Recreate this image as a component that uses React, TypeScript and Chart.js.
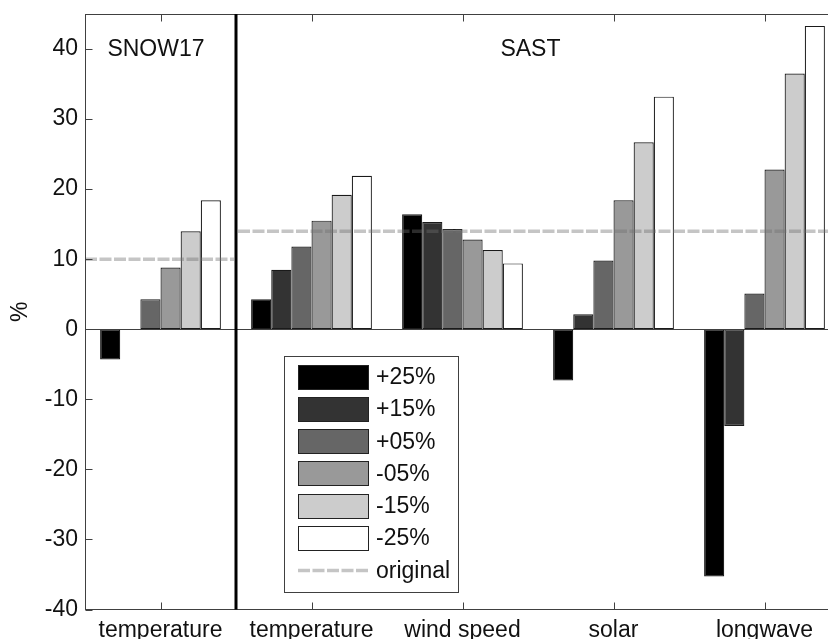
import React, { useEffect, useRef } from 'react';
import { Chart, registerables } from 'chart.js';

Chart.register(...registerables);

// ---- data ----
const categories = ['temperature', 'temperature', 'wind speed', 'solar', 'longwave'];
const seriesLabels = ['+25%', '+15%', '+05%', '-05%', '-15%', '-25%'];
const plus25 = [-4.3, 4.3, 16.4, -7.3, -35.3];
const plus15 = [null, 8.5, 15.3, 2.15, -13.8];
const plus05 = [4.3, 11.8, 14.3, 9.8, 5.1];
const minus05 = [8.8, 15.5, 12.8, 18.4, 22.8];
const minus15 = [14.0, 19.2, 11.3, 26.7, 36.5];
const minus25 = [18.4, 21.9, 9.4, 33.2, 43.3];
const seriesColors = ['#000000', '#333333', '#666666', '#999999', '#cccccc', '#ffffff'];
const yTicks = [-40, -30, -20, -10, 0, 10, 20, 30, 40];
const yMin = -40;
const yMax = 45;
const modelNames = ['SNOW17', 'SAST'];
const modelLabelX = [-0.03, 2.45]; // category position of model label
const modelLabelY = 40;
const originalValues = [10, 14]; // SNOW17, SAST
const originalLabel = 'original';
const yTitle = '%';

const FONT = '"Liberation Sans", Arial, Helvetica, sans-serif';
const FS = 23;

const overlayPlugin = {
  id: 'matlabOverlay',
  afterDatasetsDraw(chart: any) {
    const { ctx, chartArea: ca, scales } = chart;
    const x = scales.x;
    const y = scales.y;
    const c0 = x.getPixelForValue(0);
    const c1 = x.getPixelForValue(1);
    const catW = c1 - c0;
    const sepX = (c0 + c1) / 2;
    const L = Math.round(ca.left) + 0.5;
    const R = Math.round(ca.right) - 0.5;
    const T = Math.round(ca.top) + 0.5;
    const B = Math.round(ca.bottom) - 0.5;

    ctx.save();
    // zero baseline
    const y0 = Math.round(y.getPixelForValue(0)) + 0.5;
    ctx.strokeStyle = '#404040';
    ctx.lineWidth = 1;
    ctx.beginPath();
    ctx.moveTo(L, y0);
    ctx.lineTo(R, y0);
    ctx.stroke();

    // original dashed lines
    ctx.strokeStyle = 'rgba(110,110,110,0.40)';
    ctx.lineWidth = 3.5;
    ctx.setLineDash([12, 2.5]);
    const ys = y.getPixelForValue(originalValues[0]);
    ctx.beginPath();
    ctx.moveTo(ca.left, ys);
    ctx.lineTo(sepX - 2, ys);
    ctx.stroke();
    const ya = y.getPixelForValue(originalValues[1]);
    ctx.beginPath();
    ctx.moveTo(sepX + 2, ya);
    ctx.lineTo(ca.right, ya);
    ctx.stroke();
    ctx.setLineDash([]);

    // frame
    ctx.strokeStyle = '#404040';
    ctx.lineWidth = 1;
    ctx.strokeRect(L, T, R - L, B - T);

    // inward ticks
    ctx.beginPath();
    for (let i = 0; i < categories.length; i++) {
      const px = Math.round(x.getPixelForValue(i)) + 0.5;
      ctx.moveTo(px, T);
      ctx.lineTo(px, T + 7);
      ctx.moveTo(px, B);
      ctx.lineTo(px, B - 7);
    }
    for (const v of yTicks) {
      const py = Math.round(y.getPixelForValue(v)) + 0.5;
      ctx.moveTo(L, py);
      ctx.lineTo(L + 7, py);
      ctx.moveTo(R, py);
      ctx.lineTo(R - 7, py);
    }
    ctx.stroke();

    // separator between models
    ctx.strokeStyle = '#000000';
    ctx.lineWidth = 3;
    ctx.beginPath();
    ctx.moveTo(sepX, ca.top);
    ctx.lineTo(sepX, ca.bottom);
    ctx.stroke();

    // model labels
    ctx.fillStyle = '#111111';
    ctx.font = `${FS}px ${FONT}`;
    ctx.textAlign = 'center';
    ctx.textBaseline = 'middle';
    modelNames.forEach((name, i) => {
      const px = c0 + modelLabelX[i] * catW;
      ctx.fillText(name, px, y.getPixelForValue(modelLabelY) + 1);
    });

    // legend
    const lx = 284.5;
    const ly = 356.5;
    const lw = 174;
    const lh = 236;
    ctx.fillStyle = '#ffffff';
    ctx.fillRect(lx, ly, lw, lh);
    ctx.strokeStyle = '#404040';
    ctx.lineWidth = 1;
    ctx.strokeRect(lx, ly, lw, lh);
    const rowH = 32.33;
    const swX = 298;
    const swW = 70;
    const swH = 24;
    const firstCy = 376.5;
    ctx.textAlign = 'left';
    ctx.textBaseline = 'middle';
    chart.data.datasets.forEach((ds: any, i: number) => {
      const cy = firstCy + i * rowH;
      ctx.fillStyle = ds.backgroundColor;
      ctx.fillRect(swX + 0.5, Math.round(cy - swH / 2) + 0.5, swW, swH);
      ctx.strokeStyle = '#222222';
      ctx.strokeRect(swX + 0.5, Math.round(cy - swH / 2) + 0.5, swW, swH);
      ctx.fillStyle = '#111111';
      ctx.fillText(ds.label, 376, cy + 1);
    });
    const oy = firstCy + seriesLabels.length * rowH;
    ctx.strokeStyle = 'rgba(110,110,110,0.40)';
    ctx.lineWidth = 3.5;
    ctx.setLineDash([12, 2.5]);
    ctx.beginPath();
    ctx.moveTo(swX, oy);
    ctx.lineTo(swX + swW, oy);
    ctx.stroke();
    ctx.setLineDash([]);
    ctx.fillStyle = '#111111';
    ctx.fillText(originalLabel, 376, oy + 1);

    ctx.restore();
  },
};

export default function App() {
  const ref = useRef<HTMLCanvasElement | null>(null);

  useEffect(() => {
    const canvas = ref.current;
    if (!canvas) return;
    const series = [plus25, plus15, plus05, minus05, minus15, minus25];
    const chart = new Chart(canvas, {
      type: 'bar',
      data: {
        labels: categories,
        datasets: series.map((d, i) => ({
          label: seriesLabels[i],
          data: d,
          backgroundColor: seriesColors[i],
          borderColor: '#1a1a1a',
          borderWidth: 1.2,
          borderSkipped: false,
          barPercentage: 1.0,
          categoryPercentage: 0.8,
        })),
      },
      options: {
        responsive: false,
        animation: false,
        devicePixelRatio: 1,
        layout: { padding: { left: 0, right: 20, top: 14, bottom: 0 } },
        plugins: { legend: { display: false }, tooltip: { enabled: false } },
        scales: {
          x: {
            type: 'category',
            grid: { display: false, drawTicks: false },
            border: { display: false },
            ticks: {
              autoSkip: false,
              maxRotation: 0,
              minRotation: 0,
              padding: 7,
              color: '#111111',
              font: { family: FONT, size: FS },
            },
            afterFit: (scale: any) => {
              scale.height = 29.5;
              scale.paddingLeft = 0;
              scale.paddingRight = 0;
            },
          },
          y: {
            type: 'linear',
            min: yMin,
            max: yMax,
            grid: { display: false, drawTicks: false },
            border: { display: false },
            afterBuildTicks: (scale: any) => {
              scale.ticks = yTicks.map((v) => ({ value: v }));
            },
            ticks: {
              padding: 7,
              color: '#111111',
              font: { family: FONT, size: FS },
            },
            title: {
              display: true,
              text: yTitle,
              color: '#111111',
              font: { family: FONT, size: FS },
              padding: { top: 7, bottom: 0 },
            },
            afterFit: (scale: any) => {
              scale.width = 85;
              scale.paddingTop = 0;
              scale.paddingBottom = 0;
            },
          },
        },
      },
      plugins: [overlayPlugin],
    });
    return () => chart.destroy();
  }, []);

  return (
    <div
      style={{
        position: 'fixed',
        left: 0,
        top: 0,
        width: 828,
        height: 639,
        overflow: 'hidden',
        background: '#ffffff',
      }}
    >
      <canvas
        ref={ref}
        width={860}
        height={639}
        style={{ display: 'block', width: 860, height: 639 }}
      />
    </div>
  );
}
